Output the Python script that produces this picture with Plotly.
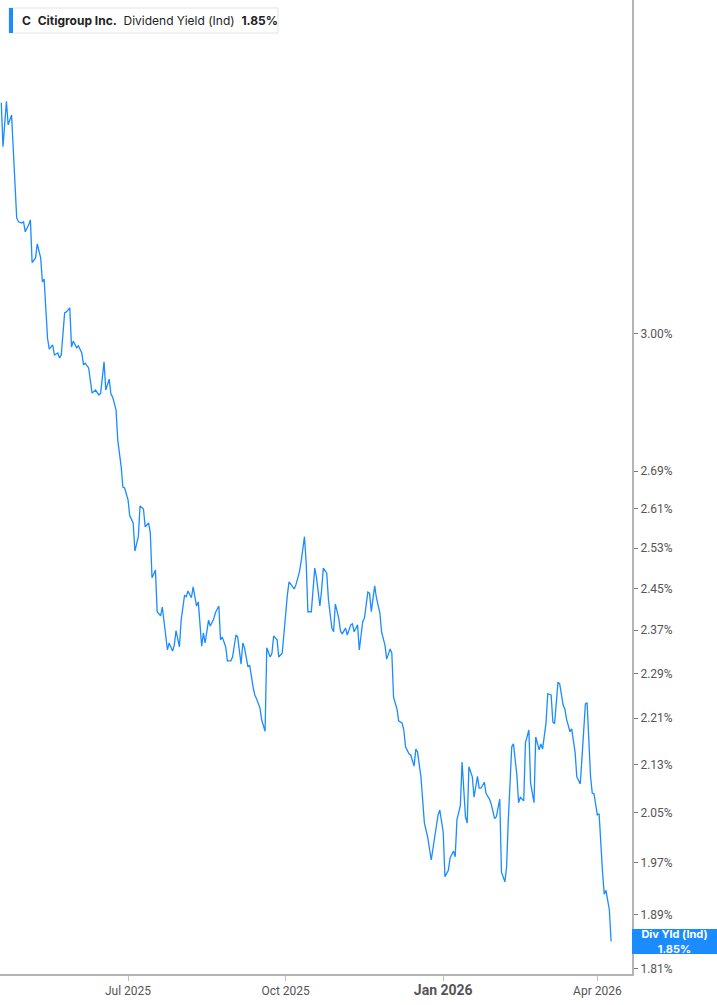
import math
import plotly.graph_objects as go

dates = [
    "2025-04-18", "2025-04-19", "2025-04-21", "2025-04-22", "2025-04-24", "2025-04-26", "2025-04-27", "2025-04-28",
    "2025-04-30", "2025-05-01", "2025-05-02", "2025-05-04", "2025-05-05", "2025-05-06", "2025-05-08", "2025-05-09",
    "2025-05-11", "2025-05-12", "2025-05-13", "2025-05-15", "2025-05-16", "2025-05-18", "2025-05-19", "2025-05-21",
    "2025-05-22", "2025-05-23", "2025-05-25", "2025-05-26", "2025-05-28", "2025-05-29", "2025-05-30", "2025-06-01",
    "2025-06-02", "2025-06-04", "2025-06-05", "2025-06-06", "2025-06-08", "2025-06-10", "2025-06-11", "2025-06-12",
    "2025-06-14", "2025-06-15", "2025-06-17", "2025-06-18", "2025-06-20", "2025-06-21", "2025-06-22", "2025-06-24",
    "2025-06-25", "2025-06-27", "2025-06-28", "2025-06-29", "2025-07-01", "2025-07-02", "2025-07-04", "2025-07-05",
    "2025-07-07", "2025-07-08", "2025-07-10", "2025-07-11", "2025-07-13", "2025-07-14", "2025-07-15", "2025-07-17",
    "2025-07-18", "2025-07-20", "2025-07-21", "2025-07-22", "2025-07-24", "2025-07-25", "2025-07-27", "2025-07-28",
    "2025-07-29", "2025-07-31", "2025-08-01", "2025-08-03", "2025-08-04", "2025-08-05", "2025-08-07", "2025-08-08",
    "2025-08-10", "2025-08-11", "2025-08-13", "2025-08-14", "2025-08-15", "2025-08-17", "2025-08-18", "2025-08-20",
    "2025-08-21", "2025-08-23", "2025-08-24", "2025-08-25", "2025-08-27", "2025-08-28", "2025-08-30", "2025-08-31",
    "2025-09-02", "2025-09-03", "2025-09-05", "2025-09-06", "2025-09-07", "2025-09-09", "2025-09-10", "2025-09-12",
    "2025-09-13", "2025-09-14", "2025-09-16", "2025-09-17", "2025-09-19", "2025-09-20", "2025-09-22", "2025-09-23",
    "2025-09-24", "2025-09-26", "2025-09-27", "2025-09-29", "2025-09-30", "2025-10-02", "2025-10-03", "2025-10-05",
    "2025-10-06", "2025-10-07", "2025-10-09", "2025-10-10", "2025-10-12", "2025-10-13", "2025-10-14", "2025-10-16",
    "2025-10-18", "2025-10-19", "2025-10-21", "2025-10-22", "2025-10-23", "2025-10-25", "2025-10-26", "2025-10-28",
    "2025-10-29", "2025-10-30", "2025-11-01", "2025-11-02", "2025-11-03", "2025-11-05", "2025-11-06", "2025-11-08",
    "2025-11-09", "2025-11-10", "2025-11-12", "2025-11-13", "2025-11-15", "2025-11-16", "2025-11-18", "2025-11-19",
    "2025-11-20", "2025-11-22", "2025-11-23", "2025-11-25", "2025-11-26", "2025-11-28", "2025-11-29", "2025-12-01",
    "2025-12-02", "2025-12-03", "2025-12-05", "2025-12-06", "2025-12-08", "2025-12-09", "2025-12-10", "2025-12-12",
    "2025-12-13", "2025-12-15", "2025-12-16", "2025-12-17", "2025-12-19", "2025-12-21", "2025-12-23", "2025-12-25",
    "2025-12-26", "2025-12-28", "2025-12-29", "2025-12-30", "2026-01-01", "2026-01-02", "2026-01-04", "2026-01-05",
    "2026-01-07", "2026-01-08", "2026-01-09", "2026-01-11", "2026-01-12", "2026-01-14", "2026-01-15", "2026-01-16",
    "2026-01-18", "2026-01-19", "2026-01-21", "2026-01-22", "2026-01-23", "2026-01-25", "2026-01-26", "2026-01-28",
    "2026-01-29", "2026-01-31", "2026-02-01", "2026-02-03", "2026-02-04", "2026-02-06", "2026-02-07", "2026-02-08",
    "2026-02-10", "2026-02-11", "2026-02-13", "2026-02-14", "2026-02-15", "2026-02-17", "2026-02-18", "2026-02-20",
    "2026-02-21", "2026-02-23", "2026-02-24", "2026-02-26", "2026-02-27", "2026-02-28", "2026-03-02", "2026-03-03",
    "2026-03-05", "2026-03-06", "2026-03-07", "2026-03-09", "2026-03-10", "2026-03-12", "2026-03-13", "2026-03-14",
    "2026-03-16", "2026-03-17", "2026-03-19", "2026-03-20", "2026-03-22", "2026-03-23", "2026-03-25", "2026-03-26",
    "2026-03-28", "2026-03-29", "2026-03-30", "2026-04-01", "2026-04-02", "2026-04-04", "2026-04-05", "2026-04-06",
    "2026-04-08", "2026-04-09",
]

div_yield = [
    3.606, 3.482, 3.610, 3.543, 3.571, 3.397, 3.290, 3.280,
    3.277, 3.280, 3.254, 3.272, 3.285, 3.175, 3.187, 3.223,
    3.187, 3.127, 3.134, 2.990, 2.964, 2.974, 2.950, 2.955,
    2.943, 2.950, 3.051, 3.053, 3.063, 2.969, 2.983, 2.967,
    2.972, 2.955, 2.927, 2.931, 2.920, 2.862, 2.865, 2.869,
    2.858, 2.862, 2.934, 2.869, 2.894, 2.860, 2.853, 2.824,
    2.757, 2.699, 2.656, 2.654, 2.629, 2.596, 2.581, 2.524,
    2.553, 2.616, 2.610, 2.573, 2.581, 2.561, 2.471, 2.486,
    2.405, 2.397, 2.414, 2.386, 2.333, 2.346, 2.331, 2.342,
    2.369, 2.339, 2.389, 2.437, 2.434, 2.445, 2.432, 2.453,
    2.416, 2.424, 2.340, 2.365, 2.346, 2.389, 2.378, 2.391,
    2.403, 2.416, 2.352, 2.357, 2.339, 2.313, 2.313, 2.320,
    2.361, 2.357, 2.307, 2.346, 2.337, 2.302, 2.305, 2.265,
    2.251, 2.244, 2.228, 2.207, 2.187, 2.337, 2.320, 2.327,
    2.359, 2.352, 2.320, 2.327, 2.367, 2.437, 2.463, 2.455,
    2.449, 2.457, 2.482, 2.502, 2.553, 2.500, 2.405, 2.405,
    2.490, 2.472, 2.416, 2.447, 2.490, 2.480, 2.428, 2.374,
    2.367, 2.420, 2.393, 2.369, 2.363, 2.374, 2.361, 2.380,
    2.382, 2.367, 2.380, 2.333, 2.386, 2.393, 2.443, 2.441,
    2.405, 2.455, 2.432, 2.403, 2.367, 2.342, 2.316, 2.335,
    2.327, 2.247, 2.226, 2.205, 2.201, 2.189, 2.160, 2.148,
    2.146, 2.127, 2.156, 2.151, 2.109, 2.033, 2.009, 1.974,
    1.993, 2.031, 2.046, 2.054, 2.018, 1.948, 1.958, 1.977,
    1.988, 1.979, 2.038, 2.061, 2.134, 2.043, 2.033, 2.126,
    2.109, 2.075, 2.110, 2.090, 2.090, 2.100, 2.081, 2.072,
    2.064, 2.040, 2.043, 2.072, 1.955, 1.940, 1.963, 2.038,
    2.160, 2.165, 2.112, 2.066, 2.075, 2.069, 2.167, 2.189,
    2.099, 2.066, 2.177, 2.155, 2.165, 2.156, 2.201, 2.253,
    2.251, 2.203, 2.200, 2.274, 2.271, 2.233, 2.226, 2.208,
    2.186, 2.191, 2.150, 2.109, 2.097, 2.141, 2.235, 2.237,
    2.110, 2.082, 2.081, 2.046, 2.048, 1.955, 1.921, 1.927,
    1.897, 1.850,
]

y_tick_vals = [1.81, 1.89, 1.97, 2.05, 2.13, 2.21, 2.29, 2.37, 2.45, 2.53, 2.61, 2.69, 3.00]
y_tick_text = [f"{v:.2f}%" for v in y_tick_vals]
x_tick_vals = ["2025-07-01", "2025-10-01", "2026-01-01", "2026-04-01"]
x_tick_text = ["Jul 2025", "Oct 2025",
               "<span style='font-size:14px'><b>Jan 2026</b></span>", "Apr 2026"]

ticker = "C"
company = "Citigroup Inc."
metric = "Dividend Yield (Ind)"
short_metric = "Div Yld (Ind)"
last_val = div_yield[-1]

BLUE = "#1a8cff"
W, H = 717, 1005
ML, MR, MT, MB = 0, 85, 0, 31
PW, PH = W - ML - MR, H - MT - MB

fig = go.Figure()
fig.add_trace(go.Scatter(
    x=dates, y=div_yield, mode="lines",
    line=dict(color=BLUE, width=1.3),
    hoverinfo="x+y", showlegend=False,
))

fig.update_layout(
    width=W, height=H,
    margin=dict(l=ML, r=MR, t=MT, b=MB, pad=0),
    paper_bgcolor="white", plot_bgcolor="white",
    font=dict(family="Roboto, Inter, sans-serif", size=12, color="#555555"),
    xaxis=dict(
        type="date",
        range=["2025-04-17 06:00", "2026-04-21 05:00"],
        tickmode="array", tickvals=x_tick_vals, ticktext=x_tick_text,
        showgrid=False, zeroline=False,
        showline=True, linecolor="#b4b4b4", linewidth=2,
        ticks="outside", ticklen=5, tickcolor="#c0c0c0", tickwidth=1,
        tickfont=dict(size=12, color="#555555"),
    ),
    yaxis=dict(
        type="log", side="right",
        range=[math.log10(1.8028), math.log10(3.913)],
        tickmode="array", tickvals=y_tick_vals, ticktext=y_tick_text,
        showgrid=False, zeroline=False,
        showline=True, linecolor="#b4b4b4", linewidth=2,
        ticks="outside", ticklen=4, tickcolor="#777777", tickwidth=1,
        tickfont=dict(size=12, color="#555555"),
    ),
)


def px_x(p):
    return (p - ML) / PW


def px_y(p):
    return 1 - (p - MT) / PH


# Legend box (top-left)
fig.add_shape(type="rect", xref="paper", yref="paper",
              x0=px_x(9), x1=px_x(278), y0=px_y(33), y1=px_y(8),
              line=dict(color="#e3e3e3", width=1), fillcolor="white", layer="above")
fig.add_shape(type="rect", xref="paper", yref="paper",
              x0=px_x(9), x1=px_x(13), y0=px_y(33), y1=px_y(8),
              line=dict(width=0), fillcolor=BLUE, layer="above")
fig.add_annotation(
    xref="paper", yref="paper", x=px_x(20), y=px_y(20.5),
    xanchor="left", yanchor="middle", showarrow=False,
    text=f"<b>{ticker}</b>  <b>{company}</b>  {metric}  <b>{last_val:.2f}%</b>",
    font=dict(family="Inter, sans-serif", size=12, color="#222222"),
)

# Last value label on right axis
fig.add_annotation(
    xref="paper", yref="y", x=1, y=math.log10(last_val),
    xanchor="left", yanchor="middle", showarrow=False,
    text=f"<b>{short_metric}</b><br><b>{last_val:.2f}%</b>",
    font=dict(family="Inter, sans-serif", size=11, color="white"),
    bgcolor=BLUE, borderpad=1, borderwidth=0, width=83, height=23, align="center",
)

fig.write_html(
    "out.html",
    config={"displayModeBar": False},
    post_script="document.body.style.margin='0px';",
)
